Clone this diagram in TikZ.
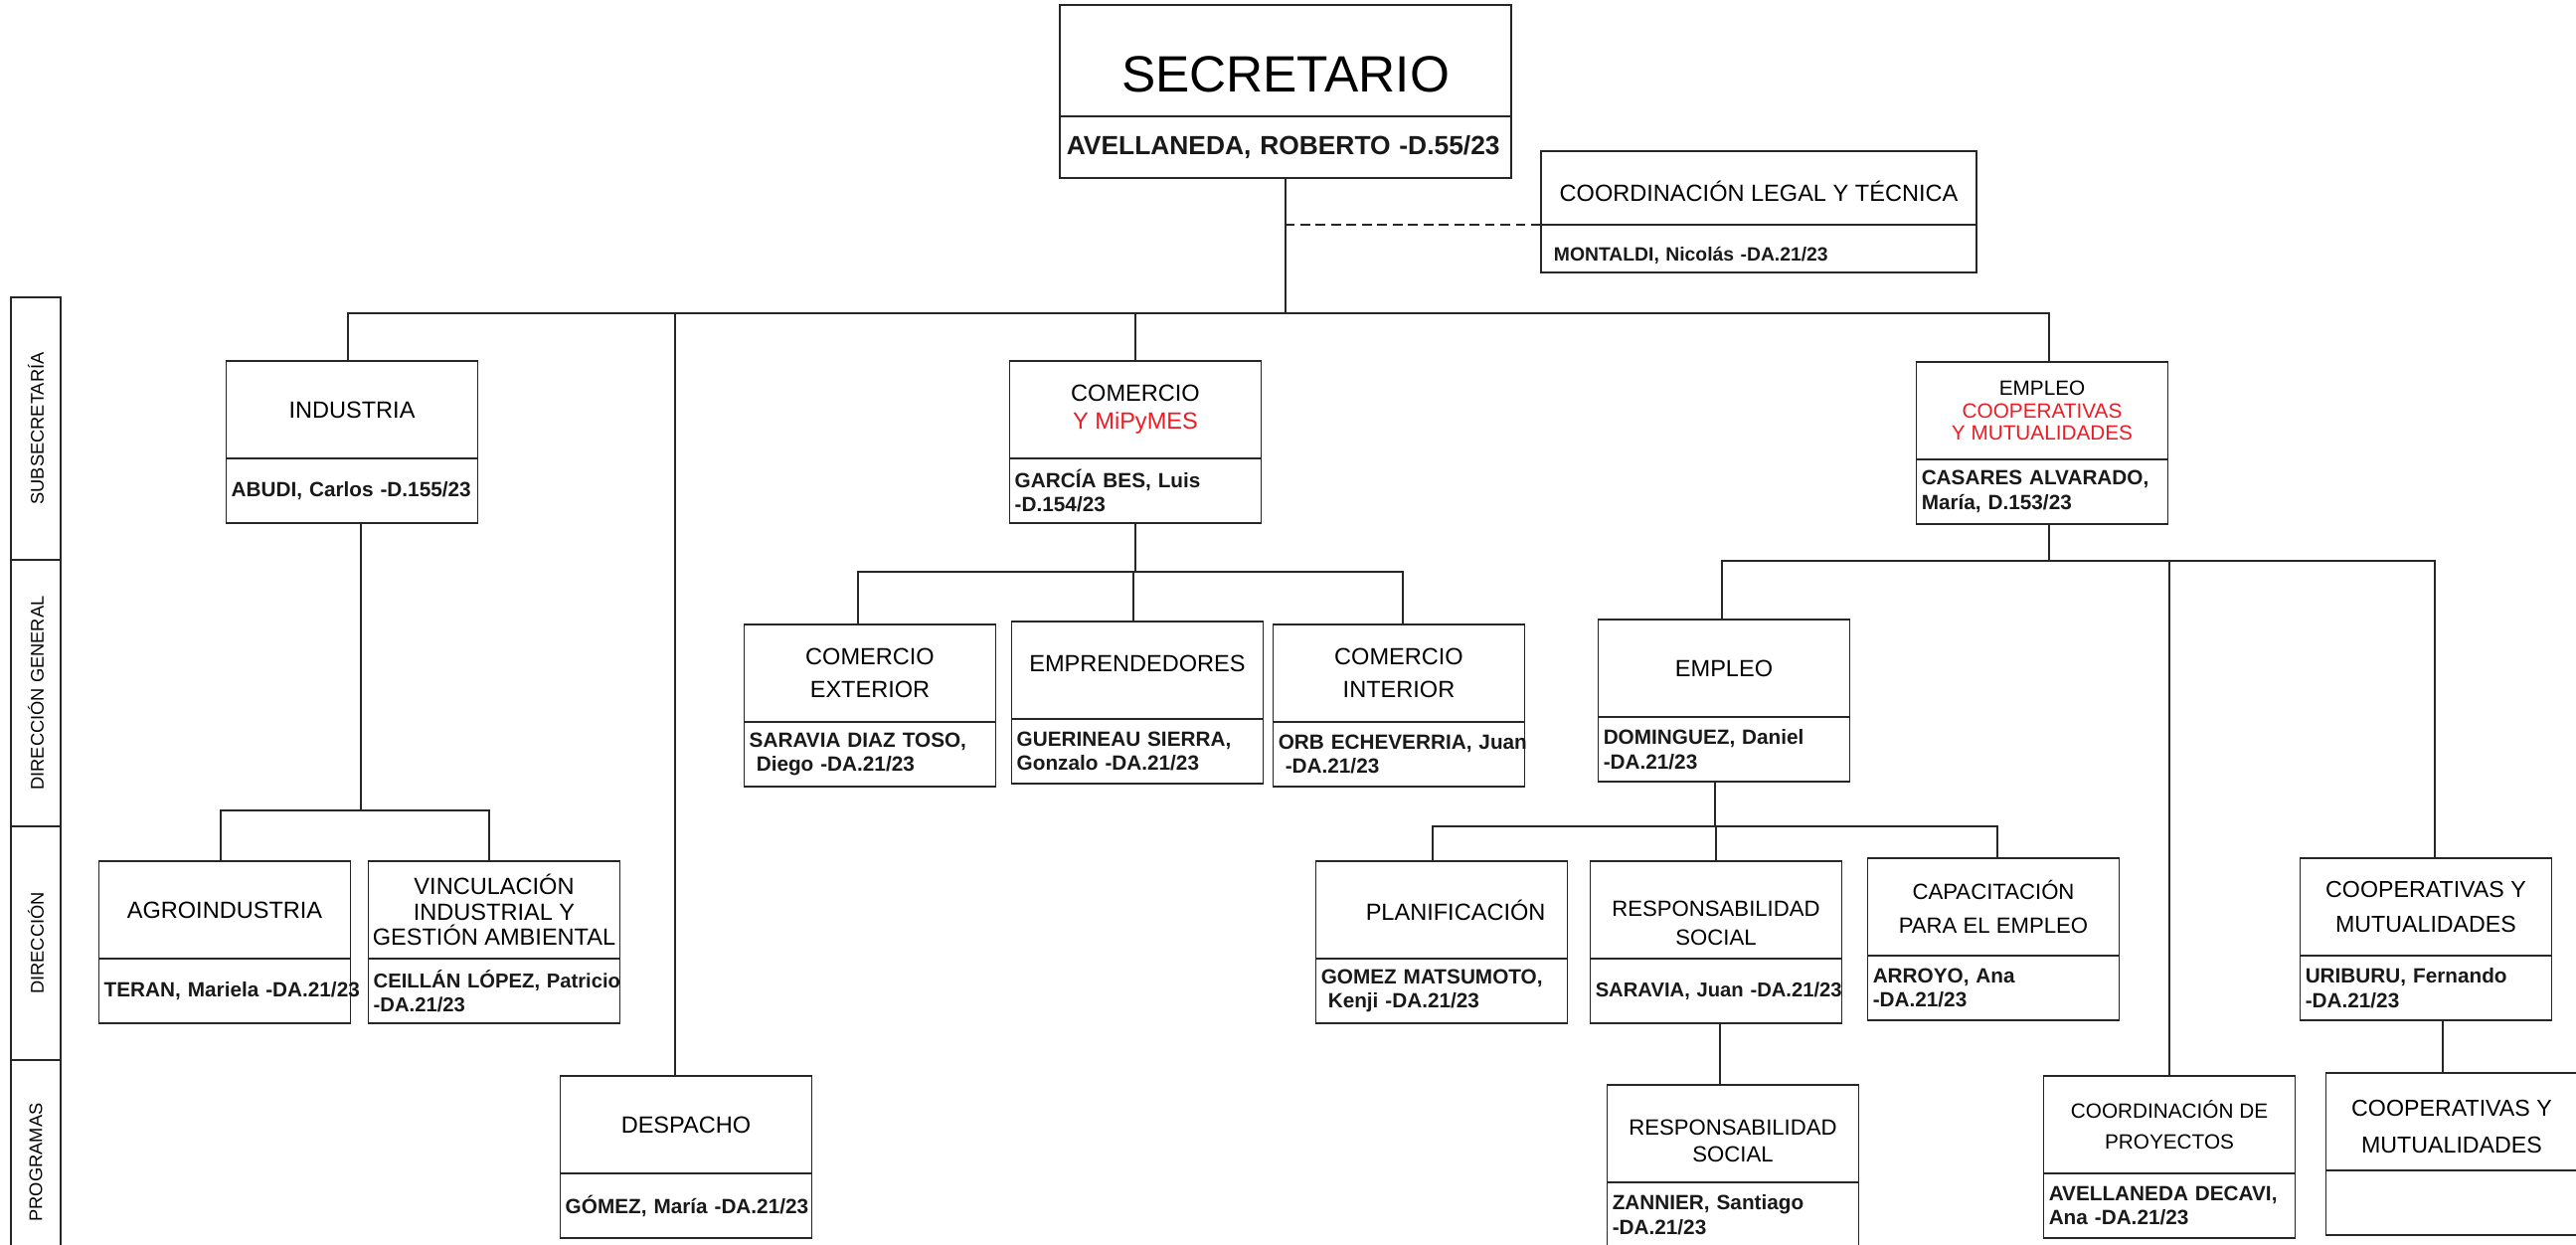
\documentclass[tikz,border=0pt]{standalone}
\usepackage{fontspec}
\setmainfont{Liberation Sans}
\usetikzlibrary{positioning}
\definecolor{rojo}{RGB}{237,28,36}
\newcommand{\fuente}[2]{\fontsize{#1}{#2}\selectfont}

\begin{document}
\begin{tikzpicture}[x=0.01cm,y=-0.01cm,
    every node/.style={outer sep=0pt},
    linea/.style={draw=black!85,line width=0.45pt},
    caja/.style={linea,minimum width=2.53cm,minimum height=0.98cm,align=center,inner sep=1pt,font=\fuente{6.7pt}{8pt}},
    nombre/.style={linea,minimum width=2.53cm,minimum height=0.65cm,text width=2.424cm,inner xsep=1.5pt,inner ysep=1pt,
      align=left,text=black!90,font=\bfseries\fuente{5.9pt}{7pt},execute at begin node={\rightskip=0pt plus 1fil minus 1cm}},
    nivel/.style={linea,rotate=90,minimum height=0.494cm,font=\fuente{5.2pt}{6pt}}]
    \clip (0,0) rectangle (2591,1252);

    \node[caja,minimum width=4.54cm,minimum height=1.12cm,line width=0.7pt,text height=18pt,font=\fuente{14.6pt}{17pt}] (sec) at (1293,61) {SECRETARIO};
    \node[nombre,minimum width=4.54cm,minimum height=0.62cm,line width=0.7pt,text width=4.4cm,align=center,font=\bfseries\fuente{7.5pt}{9pt},below=0pt of sec] (sec-p) {AVELLANEDA, ROBERTO -D.55/23};
    \node[caja,minimum width=4.38cm,minimum height=0.74cm,text height=7.6pt] (legal) at (1769,189) {COORDINACIÓN LEGAL Y TÉCNICA};
    \node[nombre,minimum width=4.38cm,minimum height=0.48cm,text width=4.12cm,inner xsep=0.13cm,text height=7.8pt,font=\bfseries\fuente{5.5pt}{7pt},below=0pt of legal] (legal-p) {MONTALDI, Nicolás -DA.21/23};

    \node[caja] (ind) at (354,412) {INDUSTRIA};
    \node[nombre,below=0pt of ind] (ind-p) {ABUDI, Carlos -D.155/23};
    \node[caja] (com) at (1142,412) {COMERCIO\\\textcolor{rojo}{Y MiPyMES}};
    \node[nombre,below=0pt of com] (com-p) {GARCÍA BES, Luis\\-D.154/23};
    \node[caja,font=\fuente{5.9pt}{6.4pt}] (empc) at (2054,413) {EMPLEO\\\textcolor{rojo}{COOPERATIVAS}\\\textcolor{rojo}{Y MUTUALIDADES}};
    \node[nombre,below=0pt of empc] (empc-p) {CASARES ALVARADO,\\María, D.153/23};

    \node[caja] (agro) at (226,915) {AGROINDUSTRIA};
    \node[nombre,below=0pt of agro] (agro-p) {TERAN, Mariela -DA.21/23};
    \node[caja,font=\fuente{6.7pt}{7.3pt}] (vinc) at (497,915) {VINCULACIÓN\\INDUSTRIAL Y\\GESTIÓN AMBIENTAL};
    \node[nombre,font=\bfseries\fuente{5.75pt}{7pt},below=0pt of vinc] (vinc-p) {CEILLÁN LÓPEZ, Patricio\\-DA.21/23};
    \node[caja] (desp) at (690,1131) {DESPACHO};
    \node[nombre,below=0pt of desp] (desp-p) {GÓMEZ, María -DA.21/23};

    \node[caja,font=\fuente{6.7pt}{9.4pt}] (cext) at (875,677) {COMERCIO\\EXTERIOR};
    \node[nombre,below=0pt of cext] (cext-p) {SARAVIA DIAZ TOSO,\\\hspace*{2pt}Diego -DA.21/23};
    \node[caja,text depth=3.8pt] (empr) at (1144,674) {EMPRENDEDORES};
    \node[nombre,below=0pt of empr] (empr-p) {GUERINEAU SIERRA,\\Gonzalo -DA.21/23};
    \node[caja,font=\fuente{6.7pt}{9.4pt}] (cint) at (1407,677) {COMERCIO\\INTERIOR};
    \node[nombre,below=0pt of cint] (cint-p) {ORB ECHEVERRIA, Juan\\\hspace*{2pt}-DA.21/23};

    \node[caja] (empl) at (1734,672) {EMPLEO};
    \node[nombre,below=0pt of empl] (empl-p) {DOMINGUEZ, Daniel\\-DA.21/23};
    \node[caja] (plan) at (1450,915) {\hspace*{8pt}PLANIFICACIÓN};
    \node[nombre,below=0pt of plan] (plan-p) {GOMEZ MATSUMOTO,\\\hspace*{2pt}Kenji -DA.21/23};
    \node[caja,text height=20pt,font=\fuente{6.3pt}{8pt}] (resp) at (1726,915) {RESPONSABILIDAD\\SOCIAL};
    \node[nombre,font=\bfseries\fuente{5.75pt}{7pt},below=0pt of resp] (resp-p) {SARAVIA, Juan -DA.21/23};
    \node[caja,font=\fuente{6.3pt}{9.8pt}] (capa) at (2005,912) {CAPACITACIÓN\\PARA EL EMPLEO};
    \node[nombre,below=0pt of capa] (capa-p) {ARROYO, Ana\\-DA.21/23};
    \node[caja,text height=16pt,font=\fuente{6.3pt}{7.5pt}] (resp2) at (1743,1140) {RESPONSABILIDAD\\SOCIAL};
    \node[nombre,below=0pt of resp2] (resp2-p) {ZANNIER, Santiago\\-DA.21/23};

    \node[caja,font=\fuente{5.9pt}{8.9pt}] (cproy) at (2182,1131) {COORDINACIÓN DE\\PROYECTOS};
    \node[nombre,below=0pt of cproy] (cproy-p) {AVELLANEDA DECAVI,\\Ana -DA.21/23};
    \node[caja,font=\fuente{6.6pt}{9.8pt}] (coop) at (2440,912) {COOPERATIVAS Y\\MUTUALIDADES};
    \node[nombre,below=0pt of coop] (coop-p) {URIBURU, Fernando\\-DA.21/23};
    \node[caja,text height=17.8pt,font=\fuente{6.6pt}{10.3pt}] (coop2) at (2466,1128) {COOPERATIVAS Y\\MUTUALIDADES};
    \node[nombre,below=0pt of coop2] (coop2-p) {};

    \node[nivel,minimum width=2.64cm] (sub) at (36,431) {SUBSECRETARÍA};
    \node[nivel,minimum width=2.68cm] (dg) at (36,697) {DIRECCIÓN GENERAL};
    \node[nivel,minimum width=2.35cm] (dir) at (36,948.5) {DIRECCIÓN};
    \node[nivel,minimum width=2.06cm] (prog) at (36,1169) {PROGRAMAS};

    \coordinate (sec-s) at (sec-p.south);
    \coordinate (ind-s) at ([xshift=0.09cm]ind-p.south);
    \coordinate (com-s) at (com-p.south);
    \coordinate (empc-s) at ([xshift=0.07cm]empc-p.south);
    \coordinate (empl-s) at ([xshift=-0.09cm]empl-p.south);
    \coordinate (resp-s) at ([xshift=0.04cm]resp-p.south);
    \coordinate (coop-s) at ([xshift=0.17cm]coop-p.south);

    \foreach \c/\d in {ind/-0.04cm,desp/-0.11cm,com/0cm,empc/0.07cm}
      \draw[linea] (sec-s) -- (sec-s |- 0,315) -| ([xshift=\d]\c.north);
    \draw[linea,dash pattern=on 2.8pt off 1.6pt] (legal.south west) -- (legal.south west -| sec-s);
    \foreach \c/\d in {agro/-0.04cm,vinc/-0.05cm}
      \draw[linea] (ind-s) -- (ind-s |- 0,815) -| ([xshift=\d]\c.north);
    \foreach \c/\d in {cext/-0.12cm,empr/-0.04cm,cint/0.04cm}
      \draw[linea] (com-s) -- (com-s |- 0,575) -| ([xshift=\d]\c.north);
    \foreach \c/\d in {empl/-0.02cm,cproy/0cm,coop/0.09cm}
      \draw[linea] (empc-s) -- (empc-s |- 0,564) -| ([xshift=\d]\c.north);
    \foreach \c/\d in {plan/-0.09cm,resp/0cm,capa/0.04cm}
      \draw[linea] (empl-s) -- (empl-s |- 0,831) -| ([xshift=\d]\c.north);
    \draw[linea] (resp-s) -- (resp-s |- resp2.north);
    \draw[linea] (coop-s) -- (coop-s |- coop2.north);
\end{tikzpicture}
\end{document}
